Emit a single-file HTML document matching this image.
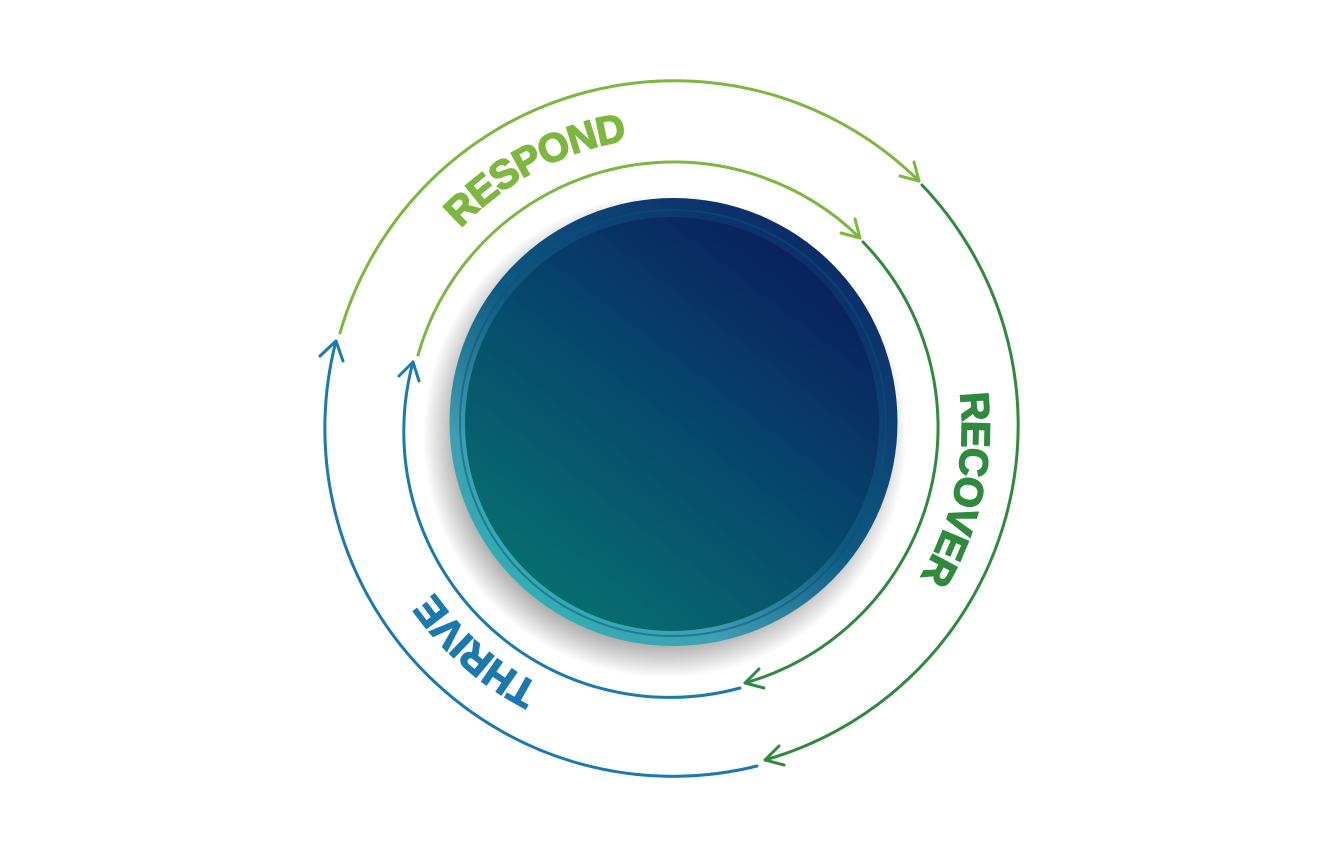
<!DOCTYPE html>
<html><head><meta charset="utf-8"><style>
html,body{margin:0;padding:0;background:#fff;}
svg{display:block;}
</style></head><body>
<svg width="1340" height="850" viewBox="0 0 1340 850" xmlns="http://www.w3.org/2000/svg">
<defs>
<radialGradient id="shadow" cx="0.5" cy="0.5" r="0.5">
<stop offset="0.8" stop-color="#000" stop-opacity="0.45"/>
<stop offset="1" stop-color="#000" stop-opacity="0"/>
</radialGradient>
<linearGradient id="rim" x1="0.85" y1="0.1" x2="0.2" y2="0.95">
<stop offset="0" stop-color="#0c2a66"/>
<stop offset="0.5" stop-color="#0f5a82"/>
<stop offset="0.8" stop-color="#3f9fb2"/>
<stop offset="1" stop-color="#2fb0b4"/>
</linearGradient>
<linearGradient id="liq" x1="0.85" y1="0.1" x2="0.2" y2="0.95">
<stop offset="0" stop-color="#0a1f5c"/>
<stop offset="0.5" stop-color="#064a6e"/>
<stop offset="1" stop-color="#08706f"/>
</linearGradient>
<path id="tp" d="M 382 427 A 290 290 0 1 1 962 427 A 290 290 0 1 1 382 427"/>
</defs>

<circle cx="665" cy="436" r="242" fill="url(#shadow)"/>
<circle cx="673.5" cy="422" r="224" fill="url(#rim)"/>
<circle cx="673" cy="423" r="213" fill="none" stroke="#0b4f7a" stroke-width="2" opacity="0.5"/>
<circle cx="672" cy="424" r="207" fill="url(#liq)"/>

<g fill="none" stroke-width="3" stroke-linecap="round" stroke-linejoin="round">
<path d="M 340 333 A 348 348 0 0 1 919 181" stroke="#7cb83e"/>
<path d="M 900 176 L 919 181 L 914 162" stroke="#7cb83e"/>
<path d="M 922 185 A 348 348 0 0 1 765 760" stroke="#2e8b3e"/>
<path d="M 784 765 L 765 760 L 779 746" stroke="#2e8b3e"/>
<path d="M 757 766 A 348 348 0 0 1 336 341" stroke="#1a7ab0"/>
<path d="M 343 361 L 336 341 L 320 356" stroke="#1a7ab0"/>
<path d="M 418 355 A 266 266 0 0 1 860 238" stroke="#7cb83e"/>
<path d="M 841 233 L 860 238 L 855 219" stroke="#7cb83e"/>
<path d="M 863 242 A 266 266 0 0 1 745 683" stroke="#2e8b3e"/>
<path d="M 764 688 L 745 683 L 759 669" stroke="#2e8b3e"/>
<path d="M 740 688 A 266 266 0 0 1 413 362" stroke="#1a7ab0"/>
<path d="M 419 381 L 413 362 L 399 376" stroke="#1a7ab0"/>
</g>

<g font-family="'Liberation Sans', sans-serif" font-weight="bold" font-size="40" text-anchor="middle" stroke-width="1.5">
<text fill="#7cb83e" stroke="#7cb83e" letter-spacing="-1"><textPath href="#tp" startOffset="314">RESPOND</textPath></text>
<text fill="#2e8b3e" stroke="#2e8b3e" letter-spacing="-1"><textPath href="#tp" startOffset="972">RECOVER</textPath></text>
<text fill="#1a7ab0" stroke="#1a7ab0" letter-spacing="-1"><textPath href="#tp" startOffset="1574">THRIVE</textPath></text>
</g>
</svg>
</body></html>
